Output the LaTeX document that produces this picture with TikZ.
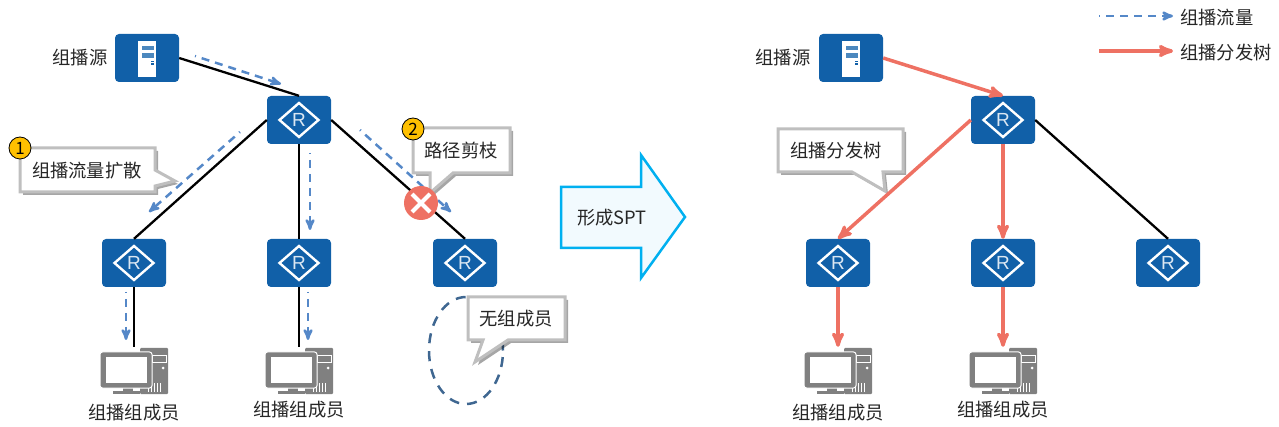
\documentclass[tikz,border=0pt]{standalone}
\usepackage{fontspec}
\setmainfont{Noto Sans CJK SC}
\newfontfamily\latinfont{Liberation Sans}
\usetikzlibrary{arrows,shadows,shapes.geometric}
\definecolor{devblue}{HTML}{1160A8}
\definecolor{flowblue}{HTML}{5588C8}
\definecolor{treered}{HTML}{EE7163}
\definecolor{pcgray}{HTML}{808080}
\definecolor{rimgray}{HTML}{BFBFBF}
\definecolor{txtgray}{HTML}{262626}
\definecolor{ringblue}{HTML}{3F6791}
\definecolor{spt}{HTML}{00B0F0}
\definecolor{sptfill}{HTML}{F2FAFE}
\definecolor{badge}{HTML}{FFC000}
\newcommand{\routericon}[1]{%
    \begin{scope}[shift={(#1.center)}]
        \draw[white,line width=2.4pt] (-19.5,0) -- (0,17) -- (19.5,0) -- (0,-17) -- cycle;
    \end{scope}}
\newcommand{\servericon}[1]{%
    \begin{scope}[shift={(#1.center)}]
        \fill[white] (-9,17) rectangle (9,-19);
        \fill[devblue!75!white] (-5,12) rectangle (7,7.5);
        \fill[devblue!75!white] (-5,4.7) rectangle (7,0.3);
        \fill[devblue] (4,-3) rectangle (7,-4.5);
        \fill[devblue] (4,-5.5) rectangle (7,-7);
    \end{scope}}
\newcommand{\pcicon}[1]{%
    \begin{scope}[shift={(#1.center)}]
        \fill[pcgray,rounded corners=1pt] (6,24) rectangle (34,-22);
        \draw[white,line width=0.8pt] (18,17) rectangle (32,10);
        \fill[white] (29,4) circle (1.5);
        \foreach \gx in {14,17,20,23,26}
            \draw[white,line width=0.8pt] (\gx,-11) -- (\gx,-20);
        \fill[pcgray] (-11,-14) rectangle (-1,-19);
        \fill[pcgray] (-21,-19) rectangle (6,-22);
        \draw[white,line width=1pt,fill=pcgray,rounded corners=2.5pt] (-34,20) rectangle (18,-16);
        \fill[white] (-28,15) rectangle (13,-11);
    \end{scope}}
\tikzset{
    router/.style = {rectangle,
                    rounded corners=4pt,
                    fill=devblue,
                    text=white!85!devblue,
                    minimum width=64pt,
                    minimum height=48pt,
                    inner sep=0pt,
                    font=\fontsize{19}{19}\selectfont\latinfont},
    server/.style = {rectangle,
                    rounded corners=4pt,
                    fill=devblue,
                    minimum width=64pt,
                    minimum height=48pt},
    pc/.style =     {rectangle,
                    minimum width=70pt,
                    minimum height=50pt,
                    inner sep=0pt},
    label/.style =  {text=txtgray,
                    inner sep=0pt,
                    font=\fontsize{18.3}{18.3}\selectfont},
    callbox/.style = {draw=rimgray,
                    fill=white,
                    line width=3pt,
                    line join=miter,
                    drop shadow={shadow xshift=3pt,shadow yshift=-3pt,opacity=.35,fill=black}},
    number/.style = {circle,
                    fill=badge,
                    draw=black,
                    text=black,
                    line width=0.8pt,
                    inner sep=0pt,
                    minimum size=22pt,
                    font=\fontsize{17}{17}\selectfont},
    link/.style =   {draw=black,line width=2.3pt},
    flow/.style =   {->,
                    draw=flowblue,
                    line width=2.5pt,
                    dash pattern=on 8pt off 6pt,
                    dash phase=7pt},
    tree/.style =   {->,
                    draw=treered,
                    line width=3.5pt},
    >=stealth'}
\begin{document}
\begin{tikzpicture}[x=1pt,y=1pt]
\useasboundingbox (0,0) rectangle (1279,-427);
% left tree
\node[server]   (SL) at (147,-58)   {};
\node[router]   (RL) at (299,-120)  {R};
\node[router]   (BL2) [node distance=143pt,below of=RL]  {R};
\node[router]   (BL1) [node distance=165pt,left of=BL2]  {R};
\node[router]   (BL3) [node distance=166pt,right of=BL2] {R};
\node[pc]       (PL1) [node distance=109pt,below of=BL1] {};
\node[pc]       (PL2) [node distance=109pt,below of=BL2] {};
\node[label]    (NSL) [node distance=67pt,left of=SL]    {组播源};
\node[label]    (NL1) [node distance=41pt,below of=PL1]  {组播组成员};
\node[label]    (NL2) [node distance=38pt,below of=PL2]  {组播组成员};

\draw[link] (SL.east) -- (RL.north);
\draw[link] (RL.west) -- (BL1.north);
\draw[link] (RL.south) -- (BL2.north);
\draw[link] (RL.east) -- (BL3.north);
\draw[link] (BL1.south) -- (PL1.north);
\draw[link] (BL2.south) -- (PL2.north);

% flow arrows
\coordinate (F1a) at (195,-56);  \coordinate (F1b) at (281,-84);
\coordinate (F2a) at (240,-132); \coordinate (F2b) at (149,-212);
\coordinate (F3a) at (310,-153); \coordinate (F3b) at (310,-230);
\coordinate (F4a) at (360,-130); \coordinate (F4b) at (451,-212);
\coordinate (F5a) at (126,-292); \coordinate (F5b) at (126,-340);
\coordinate (F6a) at (308,-292); \coordinate (F6b) at (308,-340);
\draw[flow] (F1a) -- (F1b);
\draw[flow] (F2a) -- (F2b);
\draw[flow] (F3a) -- (F3b);
\draw[flow] (F4a) -- (F4b);
\draw[flow] (F5a) -- (F5b);
\draw[flow] (F6a) -- (F6b);

% no member ring
\node[ellipse,draw=ringblue,line width=2.5pt,dash pattern=on 10pt off 8pt,
      minimum width=74pt,minimum height=107pt,inner sep=0pt] (ring) at (466,-350.5) {};

% callouts
\draw[callbox] (20,-148) -- (155,-148) -- (155,-170) -- (175,-181) -- (155,-186)
    -- (155,-192) -- (20,-192) -- cycle;
\node[label] (C1) at (87,-171) {组播流量扩散};
\draw[callbox] (413,-128) -- (510,-128) -- (510,-173) -- (453,-173) -- (430,-193)
    -- (430,-173) -- (413,-173) -- cycle;
\node[label] (C2) at (461,-151) {路径剪枝};
\draw[callbox] (468,-297) -- (565,-297) -- (565,-340) -- (508,-340) -- (475,-362)
    -- (483,-340) -- (468,-340) -- cycle;
\node[label] (C3) at (516,-319) {无组成员};

\node[number] (N1) at (20,-148) {1};
\node[number] (N2) at (413,-129) {2};

% cut mark
\node[circle,fill=treered,minimum size=34pt,inner sep=0pt] (cut) at (421,-203) {};
\draw[white,line width=4pt] ([shift={(-9,9)}]cut.center) -- ([shift={(9,-9)}]cut.center);
\draw[white,line width=4pt] ([shift={(-9,-9)}]cut.center) -- ([shift={(9,9)}]cut.center);

% big arrow
\draw[spt,fill=sptfill,line width=2.5pt] (561,-187) -- (641,-187) -- (641,-155) -- (685,-217)
    -- (641,-278) -- (641,-248) -- (561,-248) -- cycle;
\node[label] (form) at (612,-218) {形成SPT};

% right tree
\draw[callbox] (778,-129) -- (903,-129) -- (903,-172) -- (883,-172) -- (885,-191)
    -- (852,-172) -- (778,-172) -- cycle;
\node[label] (C4) at (836,-151) {组播分发树};

\node[server]   (SR) at (851,-58)   {};
\node[router]   (RR) at (1003,-120) {R};
\node[router]   (BR2) [node distance=143pt,below of=RR]  {R};
\node[router]   (BR1) [node distance=165pt,left of=BR2]  {R};
\node[router]   (BR3) [node distance=165pt,right of=BR2] {R};
\node[pc]       (PR1) [node distance=109pt,below of=BR1] {};
\node[pc]       (PR2) [node distance=109pt,below of=BR2] {};
\node[label]    (NSR) [node distance=68pt,left of=SR]    {组播源};
\node[label]    (NR1) [node distance=41pt,below of=PR1]  {组播组成员};
\node[label]    (NR2) [node distance=38pt,below of=PR2]  {组播组成员};

\draw[link] (RR.east) -- (BR3.north);
\draw[tree] (SR.east) -- (RR.north);
\draw[tree] (RR.west) -- (BR1.north);
\draw[tree] (RR.south) -- (BR2.north);
\draw[tree] (BR1.south) -- (PR1.north);
\draw[tree] (BR2.south) -- (PR2.north);

% device icons
\foreach \dev in {RL,BL1,BL2,BL3,RR,BR1,BR2,BR3}
    \routericon{\dev};
\foreach \dev in {SL,SR}
    \servericon{\dev};
\foreach \dev in {PL1,PL2,PR1,PR2}
    \pcicon{\dev};

% legend
\coordinate (K1a) at (1099,-16); \coordinate (K1b) at (1173,-16);
\coordinate (K2a) at (1099,-51); \coordinate (K2b) at (1173,-51);
\draw[flow] (K1a) -- (K1b);
\draw[tree] (K2a) -- (K2b);
\node[label,anchor=west] (K1) at (1180,-18) {组播流量};
\node[label,anchor=west] (K2) at (1180,-53) {组播分发树};
\end{tikzpicture}
\end{document}
